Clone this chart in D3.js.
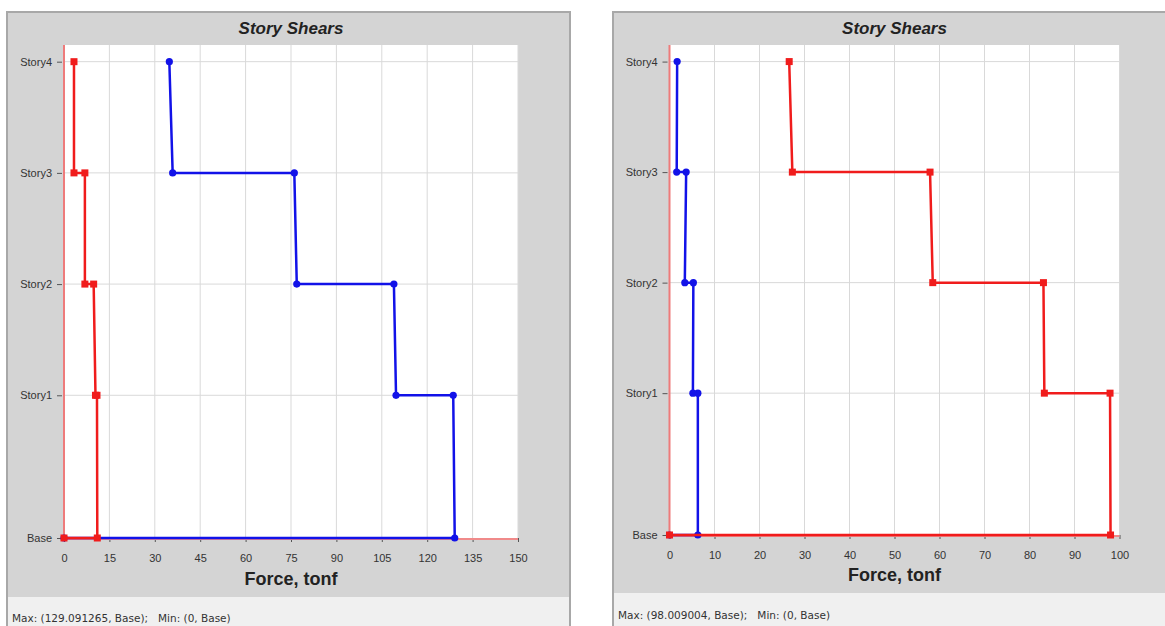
<!DOCTYPE html>
<html>
<head>
<meta charset="utf-8">
<script src="https://cdn.jsdelivr.net/npm/d3@7"></script>
<style>
  html, body { margin: 0; padding: 0; background: #ffffff; }
  svg { display: block; font-family: "Liberation Sans", Arial, sans-serif; }
</style>
</head>
<body>
<svg id="chart" width="1165" height="626"></svg>
<script>
// Story levels and their elevations (m)
const storyNames = ["Base", "Story1", "Story2", "Story3", "Story4"];
const storyElev = [0, 3.85, 6.85, 9.85, 12.85];

// Each step point sits at one story level: bottom/top of every story
const pointLevels = ["Base", "Base", "Story1", "Story1", "Story2", "Story2", "Story3", "Story3", "Story4"];

// Story shears, tonf
const leftBlue = [0, 129.091265, 128.6, 109.7, 109.0, 76.9, 76.1, 35.9, 34.8];
const leftRed = [0, 11.0, 10.9, 10.4, 9.8, 6.9, 6.9, 3.3, 3.3];
const rightBlue = [0, 6.3, 6.3, 5.2, 5.3, 3.4, 3.7, 1.6, 1.7];
const rightRed = [0, 98.009004, 97.9, 83.3, 83.1, 58.5, 57.9, 27.3, 26.6];

// Axis ticks
const leftTicks = [0, 15, 30, 45, 60, 75, 90, 105, 120, 135, 150];
const rightTicks = [0, 10, 20, 30, 40, 50, 60, 70, 80, 90, 100];

const titleText = "Story Shears";
const axisTitle = "Force, tonf";
const leftInfo = "Max: (129.091265, Base);   Min: (0, Base)";
const rightInfo = "Max: (98.009004, Base);   Min: (0, Base)";

const svg = d3.select("#chart");

function drawPanel(cfg) {
  const g = svg.append("g");

  // panel frame and backgrounds
  g.append("rect")
    .attr("x", cfg.left).attr("y", cfg.top)
    .attr("width", cfg.right - cfg.left).attr("height", 700)
    .attr("fill", "#d4d4d4").attr("stroke", "#a8a8a8").attr("stroke-width", 2);
  g.append("rect")
    .attr("x", cfg.left + 1).attr("y", cfg.stripTop)
    .attr("width", cfg.right - cfg.left - 2).attr("height", 100)
    .attr("fill", "#f0f0f0");

  const x = d3.scaleLinear().domain([cfg.ticks[0], cfg.ticks[cfg.ticks.length - 1]]).range([cfg.x0, cfg.x1]);
  const y = d3.scaleLinear().domain([0, 13.3]).range([cfg.yBase, cfg.yTop]);
  const elevOf = name => storyElev[storyNames.indexOf(name)];

  // plot area
  g.append("rect")
    .attr("x", x(cfg.ticks[0])).attr("y", y(13.3))
    .attr("width", x(cfg.ticks[cfg.ticks.length - 1]) - x(cfg.ticks[0]))
    .attr("height", y(0) - y(13.3))
    .attr("fill", "#ffffff");

  // grid
  g.append("g").selectAll("line").data(cfg.ticks.slice(1))
    .join("line")
    .attr("x1", d => x(d)).attr("x2", d => x(d))
    .attr("y1", y(13.3)).attr("y2", y(0))
    .attr("stroke", "#d9d9d9").attr("stroke-width", 1);
  g.append("g").selectAll("line").data(storyElev.slice(1))
    .join("line")
    .attr("x1", x(cfg.ticks[0])).attr("x2", x(cfg.ticks[cfg.ticks.length - 1]))
    .attr("y1", d => y(d)).attr("y2", d => y(d))
    .attr("stroke", "#d9d9d9").attr("stroke-width", 1);

  // x axis
  const xAxis = g.append("g")
    .attr("transform", `translate(0,${y(0)})`)
    .call(d3.axisBottom(x).tickValues(cfg.ticks).tickSize(4).tickPadding(12));
  xAxis.select(".domain").remove();
  xAxis.selectAll("line").attr("stroke", "#555");
  xAxis.selectAll("text").attr("fill", "#333").attr("font-size", "11px");

  // y axis
  const yAxis = g.append("g")
    .attr("transform", `translate(${x(0)},0)`)
    .call(d3.axisLeft(y).tickValues(storyElev)
      .tickFormat(d => storyNames[storyElev.indexOf(d)])
      .tickSize(5).tickPadding(6));
  yAxis.select(".domain").remove();
  yAxis.selectAll("line").attr("x1", -7).attr("x2", -2).attr("stroke", "#555");
  yAxis.selectAll("text").attr("fill", "#333").attr("font-size", "11px").attr("dx", "-1");

  // axis lines
  g.append("line")
    .attr("x1", x(0)).attr("x2", x(cfg.ticks[cfg.ticks.length - 1]))
    .attr("y1", y(0) + 1).attr("y2", y(0) + 1)
    .attr("stroke", "#f08a8a").attr("stroke-width", 2);
  g.append("line")
    .attr("x1", x(0)).attr("x2", x(0))
    .attr("y1", y(13.3)).attr("y2", y(0))
    .attr("stroke", "#ee7b7b").attr("stroke-width", 2);

  // series: blue first, red on top
  const line = d3.line().x(d => x(d.v)).y(d => y(elevOf(d.lvl)));
  cfg.series.forEach(s => {
    const pts = s.values.map((v, i) => ({ v: v, lvl: pointLevels[i] }));
    g.append("path")
      .datum(pts)
      .attr("d", line)
      .attr("fill", "none")
      .attr("stroke", s.color)
      .attr("stroke-width", 2.5)
      .attr("stroke-linejoin", "round");
    if (s.shape === "circle") {
      g.append("g").selectAll("circle").data(pts).join("circle")
        .attr("cx", d => x(d.v)).attr("cy", d => y(elevOf(d.lvl)))
        .attr("r", 3.6).attr("fill", s.color);
    } else {
      g.append("g").selectAll("rect").data(pts).join("rect")
        .attr("x", d => x(d.v) - 3.5).attr("y", d => y(elevOf(d.lvl)) - 3.5)
        .attr("width", 7).attr("height", 7).attr("fill", s.color);
    }
  });

  const cx = (cfg.x0 + cfg.x1) / 2;
  g.append("text")
    .attr("x", cx).attr("y", cfg.titleY)
    .attr("text-anchor", "middle")
    .attr("font-size", "17px").attr("font-weight", "bold").attr("font-style", "italic")
    .attr("fill", "#222")
    .text(titleText);
  g.append("text")
    .attr("x", cx).attr("y", cfg.axisTitleY)
    .attr("text-anchor", "middle")
    .attr("font-size", "18px").attr("font-weight", "bold")
    .attr("fill", "#222")
    .text(axisTitle);
  g.append("text")
    .attr("x", cfg.left + 5).attr("y", cfg.infoY)
    .attr("font-family", "'DejaVu Sans', Verdana, sans-serif")
    .attr("font-size", "10.5px").attr("fill", "#333")
    .style("white-space", "pre")
    .text(cfg.info);
}

drawPanel({
  left: 7, right: 570, top: 12, stripTop: 597,
  x0: 64, x1: 518, yTop: 45, yBase: 538,
  ticks: leftTicks, titleY: 34, axisTitleY: 585, infoY: 622,
  info: leftInfo,
  series: [
    { values: leftBlue, color: "#1212e8", shape: "circle" },
    { values: leftRed, color: "#f01c1c", shape: "square" }
  ]
});

drawPanel({
  left: 613, right: 1185, top: 12, stripTop: 593,
  x0: 669.5, x1: 1119.5, yTop: 45, yBase: 535,
  ticks: rightTicks, titleY: 34, axisTitleY: 581, infoY: 619,
  info: rightInfo,
  series: [
    { values: rightBlue, color: "#1212e8", shape: "circle" },
    { values: rightRed, color: "#f01c1c", shape: "square" }
  ]
});
</script>
</body>
</html>
